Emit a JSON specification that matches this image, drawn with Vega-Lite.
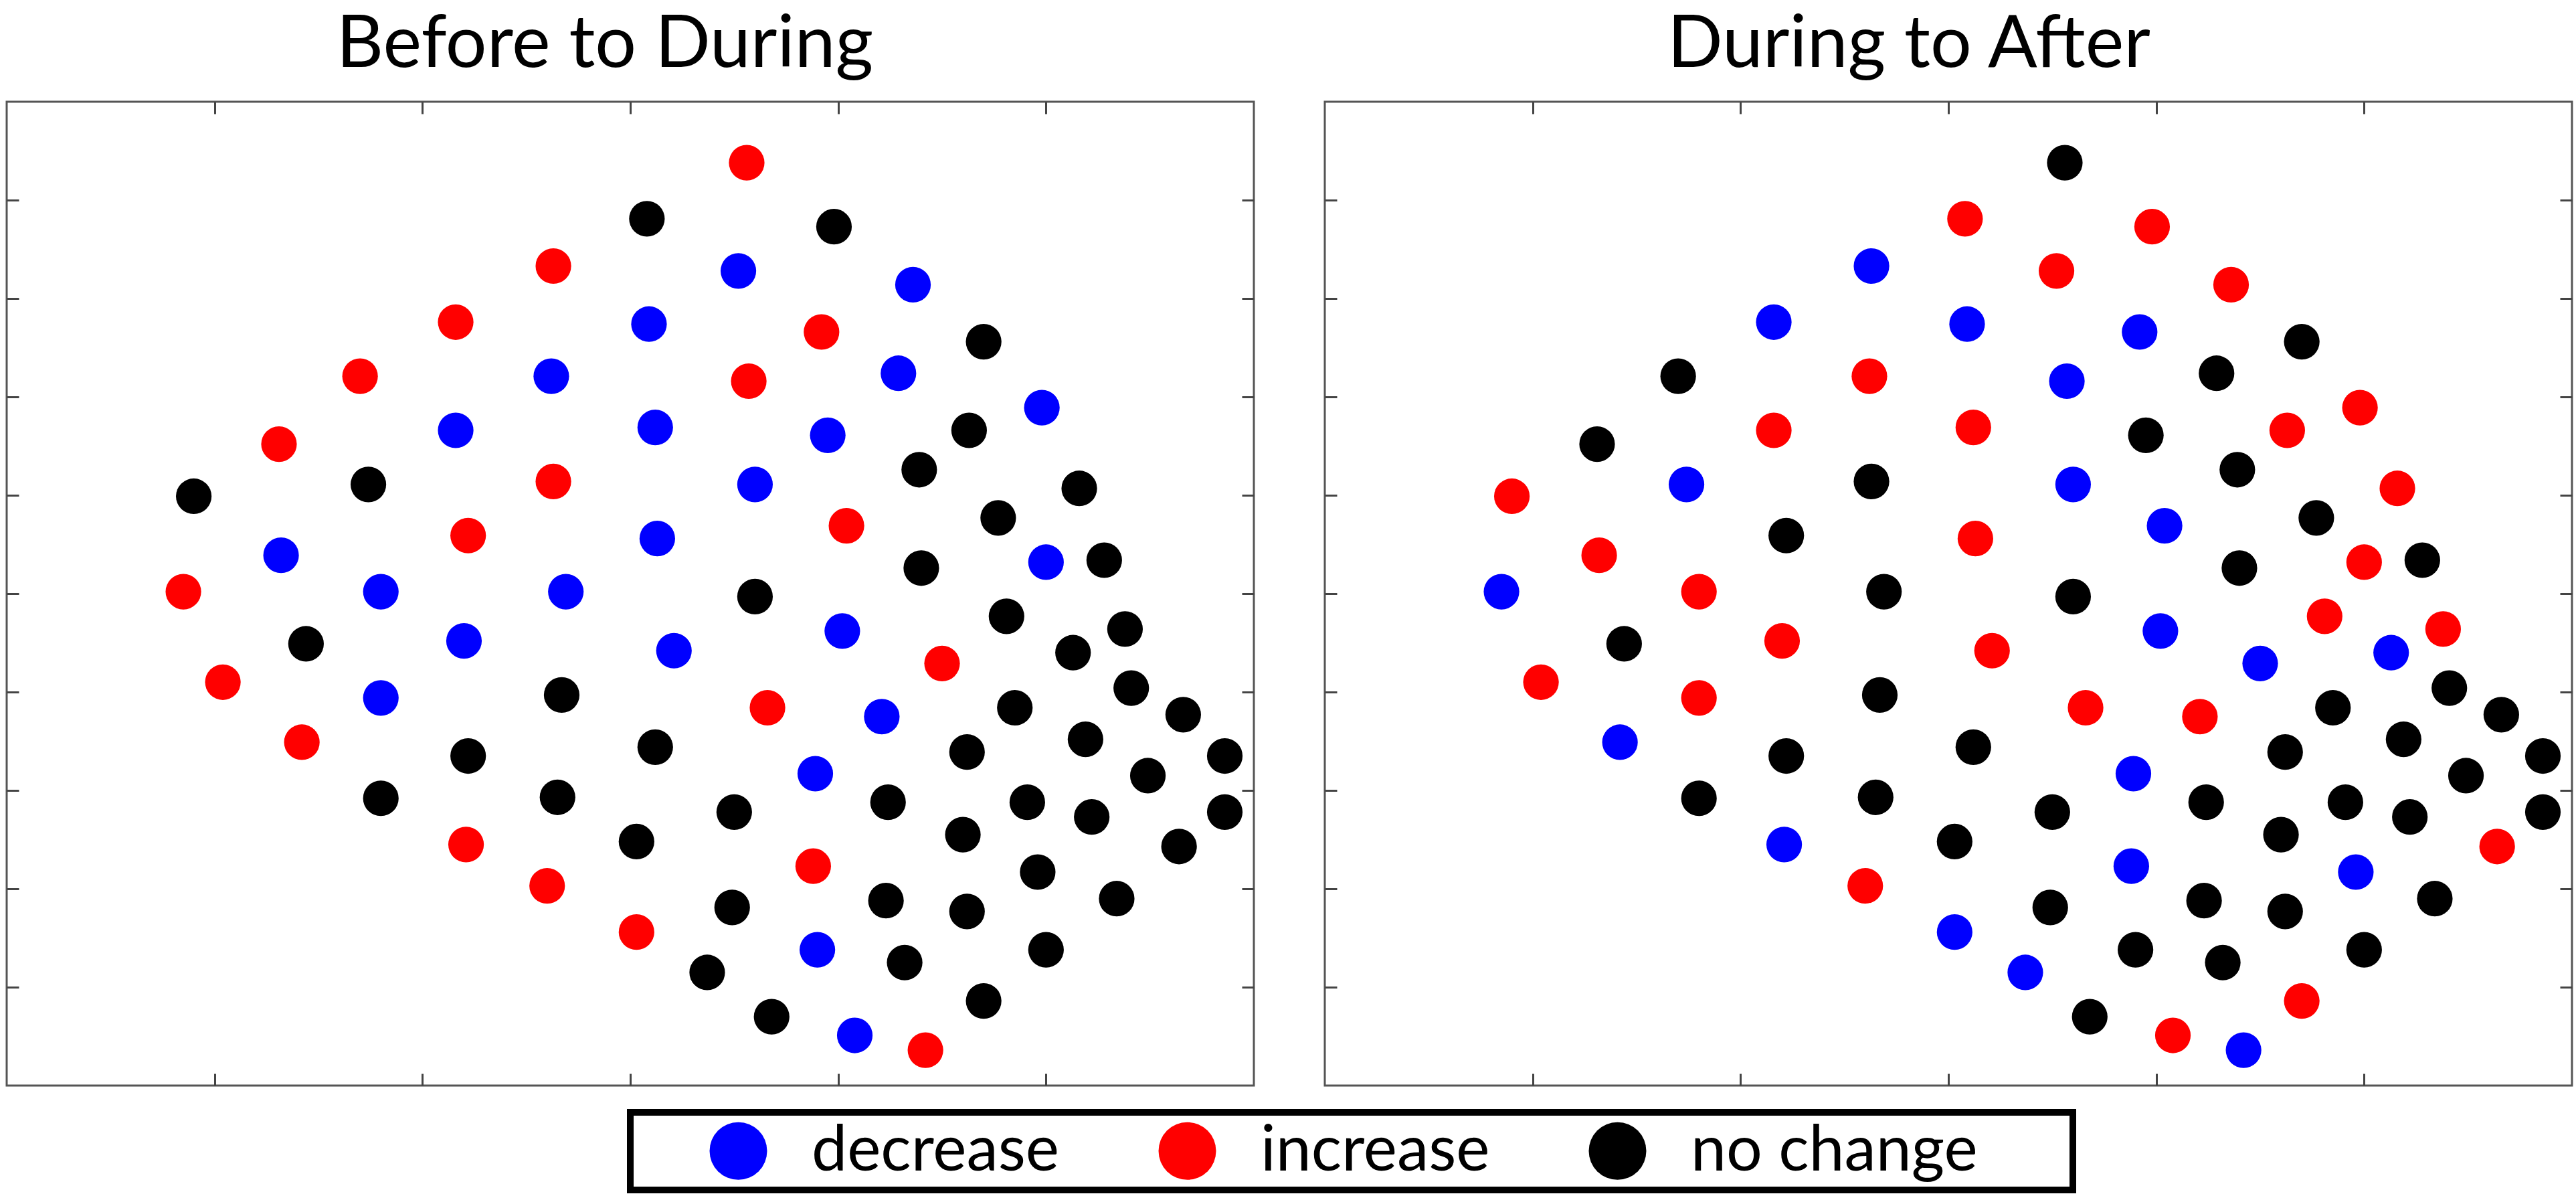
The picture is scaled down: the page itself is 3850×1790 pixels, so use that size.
{
  "$schema": "https://vega.github.io/schema/vega-lite/v6.json",
  "background": "white",
  "padding": {"left": 7, "top": 11, "right": 14, "bottom": 10},
  "datasets": {
    "pts": [
      {"p":"BD","x":3.56,"y":9.38,"c":"increase"},
      {"p":"BD","x":3.08,"y":8.81,"c":"no change"},
      {"p":"BD","x":3.98,"y":8.73,"c":"no change"},
      {"p":"BD","x":2.63,"y":8.33,"c":"increase"},
      {"p":"BD","x":3.52,"y":8.28,"c":"decrease"},
      {"p":"BD","x":4.36,"y":8.14,"c":"decrease"},
      {"p":"BD","x":2.16,"y":7.76,"c":"increase"},
      {"p":"BD","x":3.09,"y":7.74,"c":"decrease"},
      {"p":"BD","x":3.92,"y":7.66,"c":"increase"},
      {"p":"BD","x":4.70,"y":7.56,"c":"no change"},
      {"p":"BD","x":1.70,"y":7.21,"c":"increase"},
      {"p":"BD","x":2.62,"y":7.21,"c":"decrease"},
      {"p":"BD","x":3.57,"y":7.16,"c":"increase"},
      {"p":"BD","x":4.29,"y":7.24,"c":"decrease"},
      {"p":"BD","x":4.98,"y":6.89,"c":"decrease"},
      {"p":"BD","x":2.16,"y":6.66,"c":"decrease"},
      {"p":"BD","x":3.12,"y":6.69,"c":"decrease"},
      {"p":"BD","x":3.95,"y":6.61,"c":"decrease"},
      {"p":"BD","x":4.63,"y":6.66,"c":"no change"},
      {"p":"BD","x":1.31,"y":6.52,"c":"increase"},
      {"p":"BD","x":1.74,"y":6.11,"c":"no change"},
      {"p":"BD","x":2.63,"y":6.14,"c":"increase"},
      {"p":"BD","x":3.60,"y":6.11,"c":"decrease"},
      {"p":"BD","x":4.39,"y":6.26,"c":"no change"},
      {"p":"BD","x":5.16,"y":6.07,"c":"no change"},
      {"p":"BD","x":0.90,"y":5.99,"c":"no change"},
      {"p":"BD","x":2.22,"y":5.59,"c":"increase"},
      {"p":"BD","x":3.13,"y":5.56,"c":"decrease"},
      {"p":"BD","x":4.04,"y":5.69,"c":"increase"},
      {"p":"BD","x":4.77,"y":5.77,"c":"no change"},
      {"p":"BD","x":1.32,"y":5.39,"c":"decrease"},
      {"p":"BD","x":1.80,"y":5.02,"c":"decrease"},
      {"p":"BD","x":2.69,"y":5.02,"c":"decrease"},
      {"p":"BD","x":3.60,"y":4.97,"c":"no change"},
      {"p":"BD","x":4.40,"y":5.26,"c":"no change"},
      {"p":"BD","x":5.00,"y":5.32,"c":"decrease"},
      {"p":"BD","x":5.28,"y":5.34,"c":"no change"},
      {"p":"BD","x":0.85,"y":5.02,"c":"increase"},
      {"p":"BD","x":1.44,"y":4.49,"c":"no change"},
      {"p":"BD","x":2.20,"y":4.52,"c":"decrease"},
      {"p":"BD","x":3.21,"y":4.42,"c":"decrease"},
      {"p":"BD","x":4.02,"y":4.62,"c":"decrease"},
      {"p":"BD","x":4.81,"y":4.77,"c":"no change"},
      {"p":"BD","x":5.38,"y":4.64,"c":"no change"},
      {"p":"BD","x":5.13,"y":4.40,"c":"no change"},
      {"p":"BD","x":1.04,"y":4.10,"c":"increase"},
      {"p":"BD","x":1.80,"y":3.94,"c":"decrease"},
      {"p":"BD","x":2.67,"y":3.97,"c":"no change"},
      {"p":"BD","x":3.66,"y":3.84,"c":"increase"},
      {"p":"BD","x":4.50,"y":4.29,"c":"increase"},
      {"p":"BD","x":4.21,"y":3.75,"c":"decrease"},
      {"p":"BD","x":4.85,"y":3.84,"c":"no change"},
      {"p":"BD","x":5.41,"y":4.04,"c":"no change"},
      {"p":"BD","x":5.66,"y":3.77,"c":"no change"},
      {"p":"BD","x":1.42,"y":3.49,"c":"increase"},
      {"p":"BD","x":2.22,"y":3.35,"c":"no change"},
      {"p":"BD","x":3.12,"y":3.44,"c":"no change"},
      {"p":"BD","x":3.89,"y":3.17,"c":"decrease"},
      {"p":"BD","x":4.62,"y":3.39,"c":"no change"},
      {"p":"BD","x":5.19,"y":3.52,"c":"no change"},
      {"p":"BD","x":5.49,"y":3.15,"c":"no change"},
      {"p":"BD","x":5.86,"y":3.35,"c":"no change"},
      {"p":"BD","x":1.80,"y":2.92,"c":"no change"},
      {"p":"BD","x":2.65,"y":2.93,"c":"no change"},
      {"p":"BD","x":3.50,"y":2.78,"c":"no change"},
      {"p":"BD","x":4.24,"y":2.88,"c":"no change"},
      {"p":"BD","x":4.91,"y":2.88,"c":"no change"},
      {"p":"BD","x":5.22,"y":2.73,"c":"no change"},
      {"p":"BD","x":5.86,"y":2.78,"c":"no change"},
      {"p":"BD","x":2.21,"y":2.45,"c":"increase"},
      {"p":"BD","x":3.03,"y":2.48,"c":"no change"},
      {"p":"BD","x":3.88,"y":2.23,"c":"increase"},
      {"p":"BD","x":4.60,"y":2.55,"c":"no change"},
      {"p":"BD","x":4.96,"y":2.17,"c":"no change"},
      {"p":"BD","x":5.64,"y":2.43,"c":"no change"},
      {"p":"BD","x":2.60,"y":2.03,"c":"increase"},
      {"p":"BD","x":3.49,"y":1.81,"c":"no change"},
      {"p":"BD","x":4.23,"y":1.88,"c":"no change"},
      {"p":"BD","x":4.62,"y":1.77,"c":"no change"},
      {"p":"BD","x":5.34,"y":1.90,"c":"no change"},
      {"p":"BD","x":3.03,"y":1.56,"c":"increase"},
      {"p":"BD","x":3.90,"y":1.38,"c":"decrease"},
      {"p":"BD","x":3.37,"y":1.15,"c":"no change"},
      {"p":"BD","x":4.32,"y":1.25,"c":"no change"},
      {"p":"BD","x":5.00,"y":1.38,"c":"no change"},
      {"p":"BD","x":3.68,"y":0.70,"c":"no change"},
      {"p":"BD","x":4.08,"y":0.51,"c":"decrease"},
      {"p":"BD","x":4.70,"y":0.86,"c":"no change"},
      {"p":"BD","x":4.42,"y":0.36,"c":"increase"},

      {"p":"DA","x":3.56,"y":9.38,"c":"no change"},
      {"p":"DA","x":3.08,"y":8.81,"c":"increase"},
      {"p":"DA","x":3.98,"y":8.73,"c":"increase"},
      {"p":"DA","x":2.63,"y":8.33,"c":"decrease"},
      {"p":"DA","x":3.52,"y":8.28,"c":"increase"},
      {"p":"DA","x":4.36,"y":8.14,"c":"increase"},
      {"p":"DA","x":2.16,"y":7.76,"c":"decrease"},
      {"p":"DA","x":3.09,"y":7.74,"c":"decrease"},
      {"p":"DA","x":3.92,"y":7.66,"c":"decrease"},
      {"p":"DA","x":4.70,"y":7.56,"c":"no change"},
      {"p":"DA","x":1.70,"y":7.21,"c":"no change"},
      {"p":"DA","x":2.62,"y":7.21,"c":"increase"},
      {"p":"DA","x":3.57,"y":7.16,"c":"decrease"},
      {"p":"DA","x":4.29,"y":7.24,"c":"no change"},
      {"p":"DA","x":4.98,"y":6.89,"c":"increase"},
      {"p":"DA","x":2.16,"y":6.66,"c":"increase"},
      {"p":"DA","x":3.12,"y":6.69,"c":"increase"},
      {"p":"DA","x":3.95,"y":6.61,"c":"no change"},
      {"p":"DA","x":4.63,"y":6.66,"c":"increase"},
      {"p":"DA","x":1.31,"y":6.52,"c":"no change"},
      {"p":"DA","x":1.74,"y":6.11,"c":"decrease"},
      {"p":"DA","x":2.63,"y":6.14,"c":"no change"},
      {"p":"DA","x":3.60,"y":6.11,"c":"decrease"},
      {"p":"DA","x":4.39,"y":6.26,"c":"no change"},
      {"p":"DA","x":5.16,"y":6.07,"c":"increase"},
      {"p":"DA","x":0.90,"y":5.99,"c":"increase"},
      {"p":"DA","x":2.22,"y":5.59,"c":"no change"},
      {"p":"DA","x":3.13,"y":5.56,"c":"increase"},
      {"p":"DA","x":4.04,"y":5.69,"c":"decrease"},
      {"p":"DA","x":4.77,"y":5.77,"c":"no change"},
      {"p":"DA","x":1.32,"y":5.39,"c":"increase"},
      {"p":"DA","x":1.80,"y":5.02,"c":"increase"},
      {"p":"DA","x":2.69,"y":5.02,"c":"no change"},
      {"p":"DA","x":3.60,"y":4.97,"c":"no change"},
      {"p":"DA","x":4.40,"y":5.26,"c":"no change"},
      {"p":"DA","x":5.00,"y":5.32,"c":"increase"},
      {"p":"DA","x":5.28,"y":5.34,"c":"no change"},
      {"p":"DA","x":0.85,"y":5.02,"c":"decrease"},
      {"p":"DA","x":1.44,"y":4.49,"c":"no change"},
      {"p":"DA","x":2.20,"y":4.52,"c":"increase"},
      {"p":"DA","x":3.21,"y":4.42,"c":"increase"},
      {"p":"DA","x":4.02,"y":4.62,"c":"decrease"},
      {"p":"DA","x":4.81,"y":4.77,"c":"increase"},
      {"p":"DA","x":5.38,"y":4.64,"c":"increase"},
      {"p":"DA","x":5.13,"y":4.40,"c":"decrease"},
      {"p":"DA","x":1.04,"y":4.10,"c":"increase"},
      {"p":"DA","x":1.80,"y":3.94,"c":"increase"},
      {"p":"DA","x":2.67,"y":3.97,"c":"no change"},
      {"p":"DA","x":3.66,"y":3.84,"c":"increase"},
      {"p":"DA","x":4.50,"y":4.29,"c":"decrease"},
      {"p":"DA","x":4.21,"y":3.75,"c":"increase"},
      {"p":"DA","x":4.85,"y":3.84,"c":"no change"},
      {"p":"DA","x":5.41,"y":4.04,"c":"no change"},
      {"p":"DA","x":5.66,"y":3.77,"c":"no change"},
      {"p":"DA","x":1.42,"y":3.49,"c":"decrease"},
      {"p":"DA","x":2.22,"y":3.35,"c":"no change"},
      {"p":"DA","x":3.12,"y":3.44,"c":"no change"},
      {"p":"DA","x":3.89,"y":3.17,"c":"decrease"},
      {"p":"DA","x":4.62,"y":3.39,"c":"no change"},
      {"p":"DA","x":5.19,"y":3.52,"c":"no change"},
      {"p":"DA","x":5.49,"y":3.15,"c":"no change"},
      {"p":"DA","x":5.86,"y":3.35,"c":"no change"},
      {"p":"DA","x":1.80,"y":2.92,"c":"no change"},
      {"p":"DA","x":2.65,"y":2.93,"c":"no change"},
      {"p":"DA","x":3.50,"y":2.78,"c":"no change"},
      {"p":"DA","x":4.24,"y":2.88,"c":"no change"},
      {"p":"DA","x":4.91,"y":2.88,"c":"no change"},
      {"p":"DA","x":5.22,"y":2.73,"c":"no change"},
      {"p":"DA","x":5.86,"y":2.78,"c":"no change"},
      {"p":"DA","x":2.21,"y":2.45,"c":"decrease"},
      {"p":"DA","x":3.03,"y":2.48,"c":"no change"},
      {"p":"DA","x":3.88,"y":2.23,"c":"decrease"},
      {"p":"DA","x":4.60,"y":2.55,"c":"no change"},
      {"p":"DA","x":4.96,"y":2.17,"c":"decrease"},
      {"p":"DA","x":5.64,"y":2.43,"c":"increase"},
      {"p":"DA","x":2.60,"y":2.03,"c":"increase"},
      {"p":"DA","x":3.49,"y":1.81,"c":"no change"},
      {"p":"DA","x":4.23,"y":1.88,"c":"no change"},
      {"p":"DA","x":4.62,"y":1.77,"c":"no change"},
      {"p":"DA","x":5.34,"y":1.90,"c":"no change"},
      {"p":"DA","x":3.03,"y":1.56,"c":"decrease"},
      {"p":"DA","x":3.90,"y":1.38,"c":"no change"},
      {"p":"DA","x":3.37,"y":1.15,"c":"decrease"},
      {"p":"DA","x":4.32,"y":1.25,"c":"no change"},
      {"p":"DA","x":5.00,"y":1.38,"c":"no change"},
      {"p":"DA","x":3.68,"y":0.70,"c":"no change"},
      {"p":"DA","x":4.08,"y":0.51,"c":"increase"},
      {"p":"DA","x":4.70,"y":0.86,"c":"increase"},
      {"p":"DA","x":4.42,"y":0.36,"c":"decrease"}
    ]
  },
  "data": {"name": "pts"},
  "spacing": 100,
  "hconcat": [
    {
      "title": {"text": "Before to During", "dx": -38},
      "width": 1864,
      "height": 1470,
      "transform": [{"filter": "datum.p == 'BD'"}],
      "layer": [
        {
          "mark": {"type": "point", "filled": true, "opacity": 1, "size": 2830},
          "encoding": {
            "x": {"field": "x", "type": "quantitative", "scale": {"domain": [0, 6], "nice": false, "zero": false},
                  "axis": {"orient": "bottom", "values": [1, 2, 3, 4, 5], "labels": false, "title": null, "domain": false, "grid": false}},
            "y": {"field": "y", "type": "quantitative", "scale": {"domain": [0, 10], "nice": false, "zero": false},
                  "axis": {"orient": "left", "values": [1, 2, 3, 4, 5, 6, 7, 8, 9], "labels": false, "title": null, "domain": false, "grid": false}},
            "color": {"field": "c", "type": "nominal",
                      "scale": {"domain": ["decrease", "increase", "no change"], "range": ["#0000ff", "#ff0000", "#000000"]},
                      "legend": {"title": "\u2007", "encode": {"legend": {"update": {"strokeWidth": {"value": 10}}}}}}
          }
        },
        {
          "mark": {"type": "point", "opacity": 0},
          "encoding": {
            "x": {"field": "x", "type": "quantitative", "scale": {"domain": [0, 6], "nice": false, "zero": false},
                  "axis": {"orient": "top", "values": [1, 2, 3, 4, 5], "labels": false, "title": null, "domain": false, "grid": false}},
            "y": {"field": "y", "type": "quantitative", "scale": {"domain": [0, 10], "nice": false, "zero": false},
                  "axis": {"orient": "right", "values": [1, 2, 3, 4, 5, 6, 7, 8, 9], "labels": false, "title": null, "domain": false, "grid": false}}
          }
        }
      ],
      "resolve": {"axis": {"x": "independent", "y": "independent"}}
    },
    {
      "title": {"text": "During to After", "dx": -59},
      "width": 1864,
      "height": 1470,
      "transform": [{"filter": "datum.p == 'DA'"}],
      "layer": [
        {
          "mark": {"type": "point", "filled": true, "opacity": 1, "size": 2830},
          "encoding": {
            "x": {"field": "x", "type": "quantitative", "scale": {"domain": [0, 6], "nice": false, "zero": false},
                  "axis": {"orient": "bottom", "values": [1, 2, 3, 4, 5], "labels": false, "title": null, "domain": false, "grid": false}},
            "y": {"field": "y", "type": "quantitative", "scale": {"domain": [0, 10], "nice": false, "zero": false},
                  "axis": {"orient": "left", "values": [1, 2, 3, 4, 5, 6, 7, 8, 9], "labels": false, "title": null, "domain": false, "grid": false}},
            "color": {"field": "c", "type": "nominal",
                      "scale": {"domain": ["decrease", "increase", "no change"], "range": ["#0000ff", "#ff0000", "#000000"]},
                      "legend": {"title": "\u2007", "encode": {"legend": {"update": {"strokeWidth": {"value": 10}}}}}}
          }
        },
        {
          "mark": {"type": "point", "opacity": 0},
          "encoding": {
            "x": {"field": "x", "type": "quantitative", "scale": {"domain": [0, 6], "nice": false, "zero": false},
                  "axis": {"orient": "top", "values": [1, 2, 3, 4, 5], "labels": false, "title": null, "domain": false, "grid": false}},
            "y": {"field": "y", "type": "quantitative", "scale": {"domain": [0, 10], "nice": false, "zero": false},
                  "axis": {"orient": "right", "values": [1, 2, 3, 4, 5, 6, 7, 8, 9], "labels": false, "title": null, "domain": false, "grid": false}}
          }
        }
      ],
      "resolve": {"axis": {"x": "independent", "y": "independent"}}
    }
  ],
  "resolve": {"scale": {"color": "shared"}, "legend": {"color": "shared"}},
  "config": {
    "font": "Lato",
    "view": {"stroke": "#555555", "strokeWidth": 3},
    "axis": {"tickSize": -18, "tickColor": "#444444", "tickWidth": 3, "ticks": true},
    "title": {"font": "Lato", "fontSize": 109, "fontWeight": "normal", "color": "#000000", "anchor": "middle", "offset": 28},
    "legend": {
      "orient": "none",
      "legendX": 932,
      "legendY": 1510,
      "direction": "horizontal",
      "titleOrient": "right",
      "titleFontSize": 10,
      "titlePadding": 132,
      "symbolType": "circle",
      "symbolSize": 7390,
      "symbolOpacity": 1,
      "symbolStrokeWidth": 0,
      "labelFont": "Lato",
      "labelFontSize": 95,
      "labelColor": "#000000",
      "labelOffset": 62,
      "labelLimit": 0,
      "columnPadding": 39,
      "symbolOffset": 104,
      "padding": 10,
      "strokeColor": "#000000",
      "fillColor": "#ffffff",
      "cornerRadius": 0
    }
  }
}
